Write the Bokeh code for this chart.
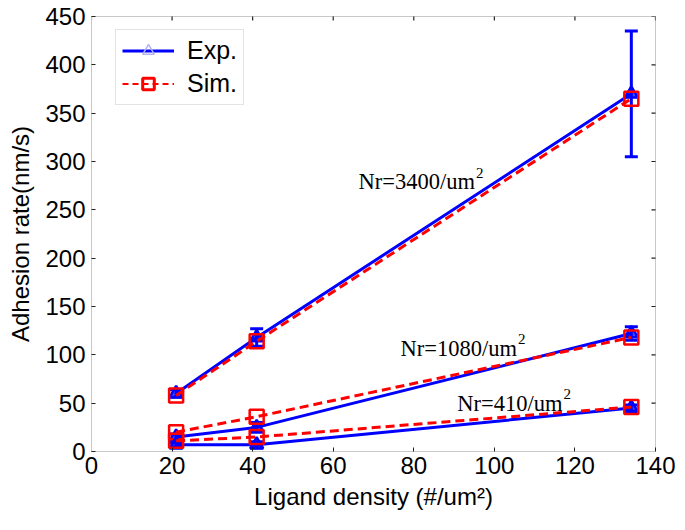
import math
from bokeh.plotting import figure
from bokeh.models import (ColumnDataSource, Whisker, TeeHead, Label, Legend,
                          LegendItem, FixedTicker, Range1d)
from bokeh.embed import file_html
from bokeh.resources import INLINE

# ---- data ----
ligand = [21, 41, 134]
exp_3400 = [60, 118, 370]
err_3400 = [4, 9, 65]
sim_3400 = [58, 114, 365]
exp_1080 = [15, 25, 122]
err_1080 = [3, 5, 7]
sim_1080 = [20, 36, 118]
exp_410 = [7, 7, 45]
err_410 = [2, 3, 3]
sim_410 = [11, 15, 46]
x_ticks = [0, 20, 40, 60, 80, 100, 120, 140]
y_ticks = [0, 50, 100, 150, 200, 250, 300, 350, 400, 450]
annot_text = ["Nr=3400/um", "Nr=1080/um", "Nr=410/um"]

BLUE = "#0000ff"
RED = "#ff0000"
FRAME = "#c8c8c8"

X0, X1, Y0, Y1 = 0, 140, 0, 450

p = figure(width=677, height=522, output_backend="svg", toolbar_location=None,
           x_range=Range1d(X0, X1), y_range=Range1d(Y0, Y1),
           min_border_left=91, min_border_right=22, min_border_top=16,
           min_border_bottom=71)
p.grid.visible = False
p.background_fill_color = "white"
p.outline_line_color = FRAME
p.outline_line_width = 1

for ax in (p.xaxis[0], p.yaxis[0]):
    ax.major_tick_in = 4
    ax.major_tick_out = 0
    ax.minor_tick_line_color = None
    ax.axis_line_color = FRAME
    ax.major_tick_line_color = "#222222"
    ax.major_label_text_font = "Liberation Sans"
    ax.major_label_text_font_size = "24px"
    ax.major_label_text_color = "black"
    ax.axis_label_text_font = "Liberation Sans"
    ax.axis_label_text_font_size = "24px"
    ax.axis_label_text_font_style = "normal"
    ax.axis_label_text_color = "black"

p.xaxis[0].ticker = FixedTicker(ticks=x_ticks)
p.yaxis[0].ticker = FixedTicker(ticks=y_ticks)
p.xaxis[0].axis_label = "Ligand density (#/um²)"
p.yaxis[0].axis_label = "Adhesion rate(nm/s)"
p.xaxis[0].major_label_standoff = 5
p.yaxis[0].major_label_standoff = 6
p.xaxis[0].axis_label_standoff = 6
p.yaxis[0].axis_label_standoff = 8

# mirror tick marks on top and right edges (inside only; glyphs clip at frame)
p.scatter(x=x_ticks, y=[Y1] * len(x_ticks), marker="dash", size=8,
          angle=math.pi / 2, line_color="#222222", line_width=1.2)
p.scatter(x=[X1] * len(y_ticks), y=y_ticks, marker="dash", size=8,
          line_color="#222222", line_width=1.2)

series = [
    (exp_3400, err_3400, sim_3400),
    (exp_1080, err_1080, sim_1080),
    (exp_410, err_410, sim_410),
]

exp_line_r = None
for exp, err, sim in series:
    src = ColumnDataSource(dict(
        x=ligand, exp=exp, sim=sim,
        lo=[e - d for e, d in zip(exp, err)],
        hi=[e + d for e, d in zip(exp, err)],
    ))
    w = Whisker(source=src, base="x", upper="hi", lower="lo",
                line_color=BLUE, line_width=3,
                upper_head=TeeHead(size=13, line_color=BLUE, line_width=3),
                lower_head=TeeHead(size=13, line_color=BLUE, line_width=3))
    p.add_layout(w)
    exp_line_r = p.line("x", "exp", source=src, line_color=BLUE, line_width=3)
    p.scatter("x", "exp", source=src, marker="triangle", size=13,
              fill_color=BLUE, fill_alpha=0.7, line_color=BLUE, line_width=2.5)
    p.line("x", "sim", source=src, line_color=RED, line_width=3,
           line_dash="9 5")
    p.scatter("x", "sim", source=src, marker="square", size=14,
              fill_color=None, line_color=RED, line_width=2.5)

# legend-only glyphs (a single NaN point: nothing is drawn in the plot area)
nan = float("nan")
leg_src = ColumnDataSource(dict(x=[nan], y=[nan]))
pale_r = p.scatter("x", "y", source=leg_src, marker="triangle", size=12,
                   fill_color=None, line_color="#b4b4f0", line_width=1.5)
leg_sim_line = p.line("x", "y", source=leg_src, line_color=RED, line_width=2,
                      line_dash="6 4")
leg_sim_mark = p.scatter("x", "y", source=leg_src, marker="square", size=11,
                         fill_color=None, line_color=RED, line_width=3)

legend = Legend(items=[
    LegendItem(label="Exp.", renderers=[exp_line_r, pale_r], index=0),
    LegendItem(label="Sim.", renderers=[leg_sim_line, leg_sim_mark], index=0),
], location=(24, 346))
legend.padding = 6
legend.spacing = 4
legend.glyph_width = 52
legend.glyph_height = 29
legend.label_standoff = 13
legend.label_height = 29
legend.label_text_font = "Liberation Sans"
legend.label_text_font_size = "25px"
legend.label_text_color = "black"
legend.label_text_baseline = "middle"
legend.border_line_color = FRAME
legend.border_line_width = 1
legend.background_fill_color = "white"
p.add_layout(legend)

# annotations (Times-like) with superscript 2
ANN_SIZE = 22.5
annot_pos = [(66.3, 279), (76.7, 106.6), (90.8, 49.7)]
char_w = {"N": 0.722, "r": 0.333, "=": 0.564, "/": 0.278, "u": 0.5, "m": 0.778}
for txt, (xx, yy) in zip(annot_text, annot_pos):
    p.add_layout(Label(x=xx, y=yy, text=txt, text_font="Liberation Serif",
                       text_font_size=f"{ANN_SIZE}px", text_color="black",
                       text_baseline="alphabetic", text_align="left"))
    wpx = sum(char_w.get(c, 0.5) for c in txt) * ANN_SIZE
    p.add_layout(Label(x=xx, y=yy, x_offset=wpx + 1, y_offset=9, text="2",
                       text_font="Liberation Serif", text_font_size="15px",
                       text_color="black", text_baseline="alphabetic",
                       text_align="left"))

open("out.html", "w").write(file_html(p, INLINE))
